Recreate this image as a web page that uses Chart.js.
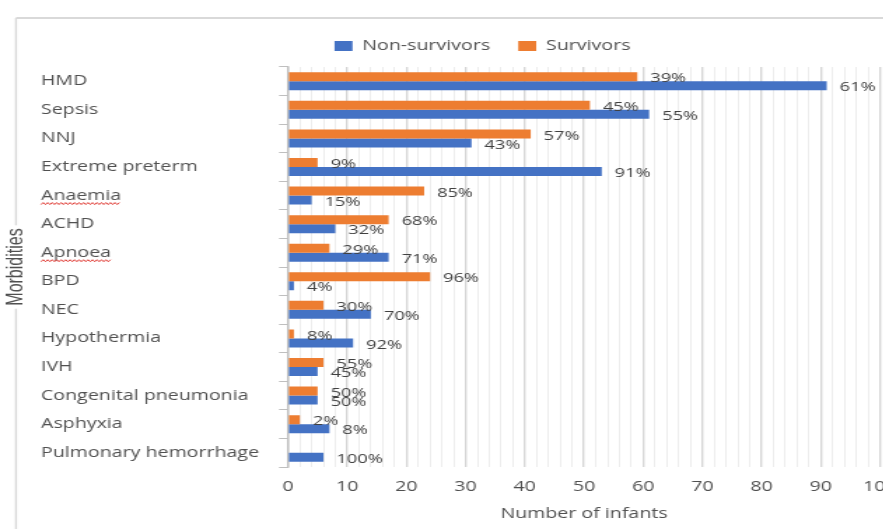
<!DOCTYPE html>
<html>
<head>
<meta charset="utf-8">
<script src="https://cdn.jsdelivr.net/npm/chart.js@4.4.0/dist/chart.umd.min.js"></script>
<style>
  html, body { margin: 0; padding: 0; background: #fff; overflow: hidden; }
  #wrap { position: relative; width: 883px; height: 529px; overflow: hidden; }
  #chart { position: absolute; left: 0; top: 0; }
</style>
</head>
<body>
<div id="wrap">
  <!-- drawn at 660px wide, shown 924px wide: the reference is stretched sideways -->
  <canvas id="chart" width="660" height="529" style="width:924px;height:529px"></canvas>
</div>
<script>
const categories = ['HMD', 'Sepsis', 'NNJ', 'Extreme preterm', 'Anaemia', 'ACHD', 'Apnoea',
  'BPD', 'NEC', 'Hypothermia', 'IVH', 'Congenital pneumonia', 'Asphyxia', 'Pulmonary hemorrhage'];
const nonSurvivors = [91, 61, 31, 53, 4, 8, 17, 1, 14, 11, 5, 5, 7, 6];
const survivors    = [59, 51, 41, 5, 23, 17, 7, 24, 6, 1, 6, 5, 2, 0];
const nonSurvivorPct = ['61%', '55%', '43%', '91%', '15%', '32%', '71%', '4%', '70%', '92%', '45%', '50%', '8%', '100%'];
const survivorPct    = ['39%', '45%', '57%', '9%', '85%', '68%', '29%', '96%', '30%', '8%', '55%', '50%', '2%', ''];
const xMin = 0, xMax = 100, xStep = 2, xLabelEvery = 10;
const flagged = ['Anaemia', 'Apnoea'];   // red spell-check squiggles in the screenshot

const SX = 1.4;                 // horizontal stretch of the canvas
const W = 660;                  // canvas width before stretching
const px = v => v / SX;         // screen x -> canvas x
const grey = '#505050';

Chart.defaults.font.family = '"Open Sans", sans-serif';

// move the legend to where the original has it
const legendShift = {
  id: 'legendShift',
  afterLayout(chart) {
    const lg = chart.legend;
    lg.left += px(22); lg.right += px(22);
    lg.top -= 4; lg.bottom -= 4;
  }
};

// outer frame + rotated axis title
const frame = {
  id: 'frame',
  beforeDraw(chart) {
    const ctx = chart.ctx;
    ctx.save();
    ctx.strokeStyle = '#d9d9d9';
    ctx.lineWidth = 2;
    ctx.beginPath(); ctx.moveTo(px(16), 18); ctx.lineTo(chart.width, 18); ctx.stroke();
    ctx.lineWidth = px(2);
    ctx.beginPath(); ctx.moveTo(px(16), 18); ctx.lineTo(px(16), chart.height); ctx.stroke();
    ctx.restore();
  },
  afterDraw(chart) {
    const {ctx, chartArea} = chart;
    ctx.save();
    ctx.translate(px(16.5), (chartArea.top + chartArea.bottom) / 2);
    ctx.rotate(-Math.PI / 2);
    ctx.font = '16px "Liberation Sans"';
    const w = ctx.measureText('Morbidities').width;
    ctx.fillStyle = '#fff';
    ctx.fillRect(-w / 2 - 3, -6, w + 6, 12);
    ctx.fillStyle = grey;
    ctx.textAlign = 'center';
    ctx.textBaseline = 'middle';
    ctx.fillText('Morbidities', 0, 0);
    ctx.restore();

    // squiggles under flagged labels
    const y = chart.scales.y;
    ctx.save();
    ctx.font = '14px "Open Sans"';
    ctx.strokeStyle = '#e0403a';
    ctx.lineWidth = 1;
    categories.forEach((c, i) => {
      if (!flagged.includes(c)) return;
      const yy = y.getPixelForTick(i) + 8;
      const w = ctx.measureText(c).width;
      ctx.beginPath();
      for (let x = 0, k = 0; x <= w; x += 1.6, k++) ctx.lineTo(y.left + x, yy + (k % 2 ? -1 : 1));
      ctx.stroke();
    });
    ctx.restore();
  }
};

// percentage labels at the bar ends
const barLabels = {
  id: 'barLabels',
  afterDatasetsDraw(chart) {
    const ctx = chart.ctx;
    ctx.save();
    ctx.font = '13px "Open Sans"';
    ctx.fillStyle = '#404040';
    ctx.textAlign = 'left';
    ctx.textBaseline = 'middle';
    chart.data.datasets.forEach((ds, di) => {
      chart.getDatasetMeta(di).data.forEach((bar, i) => {
        const t = ds.pct[i];
        if (t) ctx.fillText(t, bar.x + px(13), bar.y + 2);
      });
    });
    ctx.restore();
  }
};

new Chart(document.getElementById('chart'), {
  type: 'bar',
  data: {
    labels: categories,
    datasets: [
      { label: 'Survivors', data: survivors, backgroundColor: '#ED7D31', pct: survivorPct },
      { label: 'Non-survivors', data: nonSurvivors, backgroundColor: '#4472C4', pct: nonSurvivorPct }
    ]
  },
  options: {
    indexAxis: 'y',
    responsive: false,
    animation: false,
    devicePixelRatio: 1,
    datasets: { bar: { categoryPercentage: 0.63, barPercentage: 1 } },
    layout: { padding: { left: px(41), right: W - px(880), top: 23, bottom: 6.4 } },
    plugins: {
      legend: {
        reverse: true,
        labels: { boxWidth: px(18), boxHeight: 10, padding: px(28), color: grey, font: { size: 14 } }
      },
      tooltip: { enabled: false }
    },
    scales: {
      x: {
        min: xMin, max: xMax,
        ticks: {
          stepSize: xStep, autoSkip: false, maxRotation: 0, padding: 12,
          color: grey, font: { size: 14 },
          callback: v => (v % xLabelEvery === 0 ? v : '')
        },
        grid: {
          drawTicks: false,
          color: c => (c.tick && c.tick.value % xLabelEvery === 0 ? '#d6d6d6' : '#ededed'),
          lineWidth: c => (c.tick && c.tick.value % xLabelEvery === 0 ? 1.4 : 1)
        },
        border: { display: false },
        title: { display: true, text: 'Number of infants', color: grey, font: { size: 14 }, padding: { top: 0, bottom: 0 } },
        afterFit: s => { s.height = 55.6; }
      },
      y: {
        ticks: { crossAlign: 'far', color: grey, font: { size: 14 } },
        grid: { offset: true, drawOnChartArea: false, tickLength: px(9), color: '#bfbfbf' },
        border: { color: '#bfbfbf', width: px(2) },
        afterFit: s => { s.width = px(288) - px(41); }
      }
    }
  },
  plugins: [legendShift, frame, barLabels]
});
</script>
</body>
</html>
